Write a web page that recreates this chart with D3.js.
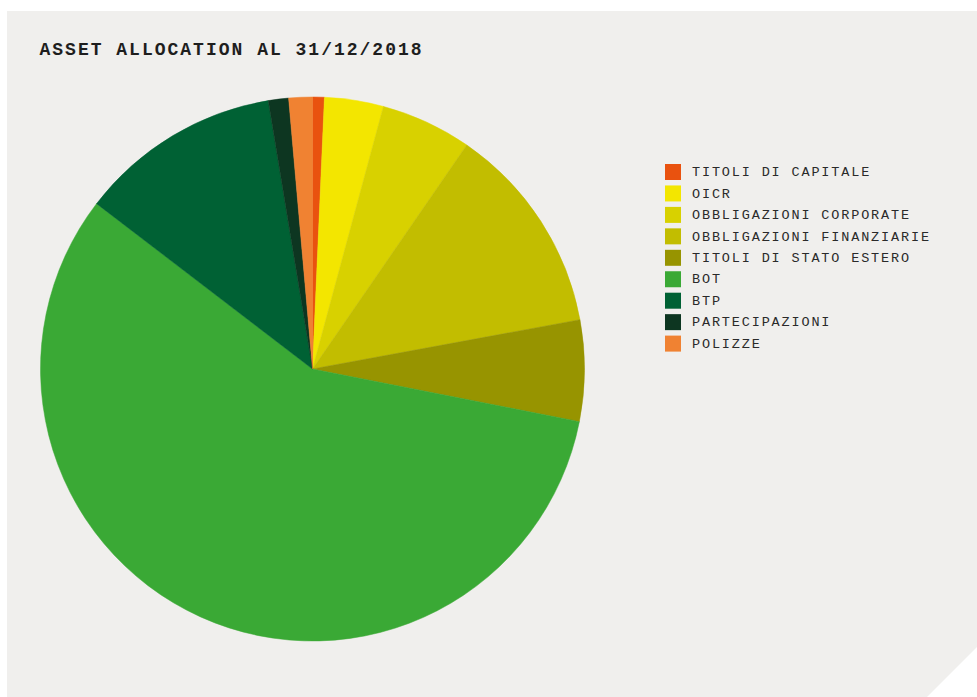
<!DOCTYPE html>
<html>
<head>
<meta charset="utf-8">
<script src="https://cdn.jsdelivr.net/npm/d3@7/dist/d3.min.js"></script>
<style>
  html, body { margin: 0; padding: 0; background: #ffffff; }
  svg { display: block; }
</style>
</head>
<body>
<script>
// Asset allocation at 31/12/2018 (percent of portfolio)
const categories = [
  "TITOLI DI CAPITALE",
  "OICR",
  "OBBLIGAZIONI CORPORATE",
  "OBBLIGAZIONI FINANZIARIE",
  "TITOLI DI STATO ESTERO",
  "BOT",
  "BTP",
  "PARTECIPAZIONI",
  "POLIZZE"
];
const values = [0.7, 3.5, 5.4, 12.5, 6.0, 57.3, 12.0, 1.2, 1.4];
const colors = [
  "#e9520f", "#f3e600", "#d8d100", "#c2bd00", "#979400",
  "#3aa935", "#006134", "#0d3621", "#f08232"
];
const title = "ASSET ALLOCATION AL 31/12/2018";

const W = 977, H = 697;
const svg = d3.select("body").append("svg").attr("width", W).attr("height", H);

// Panel with clipped bottom-right corner
const cut = 50;
svg.append("path")
  .attr("d", `M7,11 H${W} V${H - cut} L${W - cut},${H} H7 Z`)
  .attr("fill", "#f0efed");

svg.append("text")
  .attr("x", 39.5).attr("y", 55)
  .attr("font-family", "'Liberation Mono', monospace")
  .attr("font-weight", "bold")
  .attr("font-size", 18)
  .attr("letter-spacing", 2.0)
  .attr("fill", "#1e1e1e")
  .text(title);

// Pie
const cx = 312.5, cy = 369, r = 272;
const data = categories.map((c, i) => ({ name: c, value: values[i], color: colors[i] }));
const pie = d3.pie().value(d => d.value).sort(null);
const arc = d3.arc().innerRadius(0).outerRadius(r);

svg.append("g")
  .attr("transform", `translate(${cx},${cy})`)
  .selectAll("path")
  .data(pie(data))
  .join("path")
  .attr("d", arc)
  .attr("fill", d => d.data.color)
  .attr("stroke", d => d.data.color)
  .attr("stroke-width", 0.5);

// Legend
const rowH = 21.45;
const legend = svg.append("g").attr("transform", "translate(665,164)");
const rows = legend.selectAll("g")
  .data(data)
  .join("g")
  .attr("transform", (d, i) => `translate(0,${i * rowH})`);
rows.append("rect")
  .attr("width", 16).attr("height", 16)
  .attr("fill", d => d.color);
rows.append("text")
  .attr("x", 27).attr("y", 12.2)
  .attr("font-family", "'Liberation Mono', monospace")
  .attr("font-size", 13.5)
  .attr("letter-spacing", 1.85)
  .attr("fill", "#2a2a2a")
  .text(d => d.name);
</script>
</body>
</html>
